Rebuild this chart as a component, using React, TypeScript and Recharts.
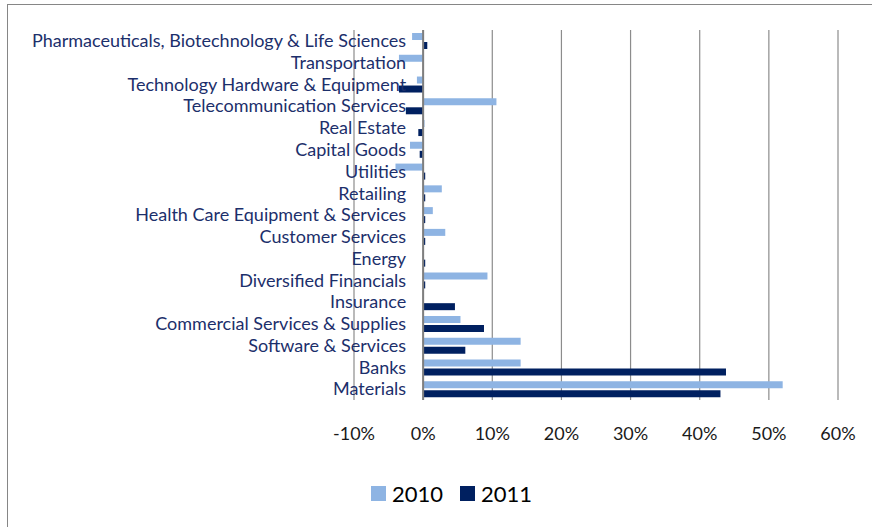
import { BarChart, Bar, XAxis, YAxis, CartesianGrid, ReferenceLine } from 'recharts';

const sectors = [
  'Pharmaceuticals, Biotechnology & Life Sciences',
  'Transportation',
  'Technology Hardware & Equipment',
  'Telecommunication Services',
  'Real Estate',
  'Capital Goods',
  'Utilities',
  'Retailing',
  'Health Care Equipment & Services',
  'Customer Services',
  'Energy',
  'Diversified Financials',
  'Insurance',
  'Commercial Services & Supplies',
  'Software & Services',
  'Banks',
  'Materials',
];

const values2010 = [-1.6, -3.5, -0.9, 10.6, 0.2, -1.9, -4.0, 2.7, 1.4, 3.2, 0.1, 9.3, 0.1, 5.4, 14.1, 14.1, 52.0];
const values2011 = [0.6, 0, -3.5, -2.5, -0.7, -0.5, 0.3, 0.3, 0.3, 0.3, 0.3, 0.3, 4.6, 8.8, 6.1, 43.8, 43.0];

const xTicks = [-10, 0, 10, 20, 30, 40, 50, 60];

const COLOR_2010 = '#8eb4e3';
const COLOR_2011 = '#002060';
const LABEL_COLOR = '#1c2f6b';
const FONT = 'Lato, "DejaVu Sans", sans-serif';

const W = 872;
const H = 527;
const PLOT_LEFT = 354;
const PLOT_RIGHT = 34;
const Y_AXIS_W = 10;
const PLOT_WIDTH = W - PLOT_LEFT - PLOT_RIGHT;
const X_MIN = -10;
const X_MAX = 60;
// category labels sit just left of the 0% line, like Excel's crossing axis
const ZERO_X = PLOT_LEFT + ((0 - X_MIN) / (X_MAX - X_MIN)) * PLOT_WIDTH;

const data = sectors.map((name, i) => ({
  name,
  y2010: values2010[i],
  y2011: values2011[i],
}));

function SectorTick({ y, payload }: any) {
  return (
    <text
      x={ZERO_X - 17}
      y={y}
      dy="0.35em"
      textAnchor="end"
      fill={LABEL_COLOR}
      fontSize={18}
      fontFamily={FONT}
    >
      {payload.value}
    </text>
  );
}

export default function App() {
  return (
    <div
      style={{
        position: 'fixed',
        left: 0,
        top: 0,
        width: W,
        height: H,
        overflow: 'hidden',
        background: '#fff',
      }}
    >
      <div
        style={{
          position: 'absolute',
          left: 7,
          top: 4,
          width: 920,
          height: 620,
          border: '1px solid #868686',
        }}
      />
      <div style={{ position: 'absolute', left: 0, top: 0 }}>
        <BarChart
          width={W}
          height={H}
          data={data}
          layout="vertical"
          margin={{ top: 30, right: PLOT_RIGHT, left: PLOT_LEFT - Y_AXIS_W, bottom: 67 }}
          barSize={7}
          barGap={2}
        >
          <CartesianGrid horizontal={false} stroke="#8c8c8c" strokeWidth={1.2} />
          <XAxis
            type="number"
            domain={[X_MIN, X_MAX]}
            ticks={xTicks}
            tickFormatter={(v) => `${v}%`}
            axisLine={false}
            tickLine={false}
            tickSize={0}
            tickMargin={27}
            height={60}
            tick={{ fontSize: 18, fill: '#1a1a1a', fontFamily: FONT }}
            interval={0}
          />
          <YAxis
            type="category"
            dataKey="name"
            width={Y_AXIS_W}
            axisLine={false}
            tickLine={false}
            interval={0}
            tick={SectorTick}
          />
          <Bar dataKey="y2010" fill={COLOR_2010} isAnimationActive={false} />
          <Bar dataKey="y2011" fill={COLOR_2011} isAnimationActive={false} />
          <ReferenceLine x={0} stroke="#7f7f7f" strokeWidth={2} />
        </BarChart>
      </div>
      <div
        style={{
          position: 'absolute',
          left: 371,
          top: 480,
          display: 'flex',
          alignItems: 'center',
          fontFamily: FONT,
          fontSize: 22,
          color: '#000',
        }}
      >
        <span style={{ width: 15, height: 15, background: COLOR_2010, marginRight: 6 }} />
        <span style={{ marginRight: 17 }}>2010</span>
        <span style={{ width: 15, height: 15, background: COLOR_2011, marginRight: 6 }} />
        <span>2011</span>
      </div>
    </div>
  );
}
